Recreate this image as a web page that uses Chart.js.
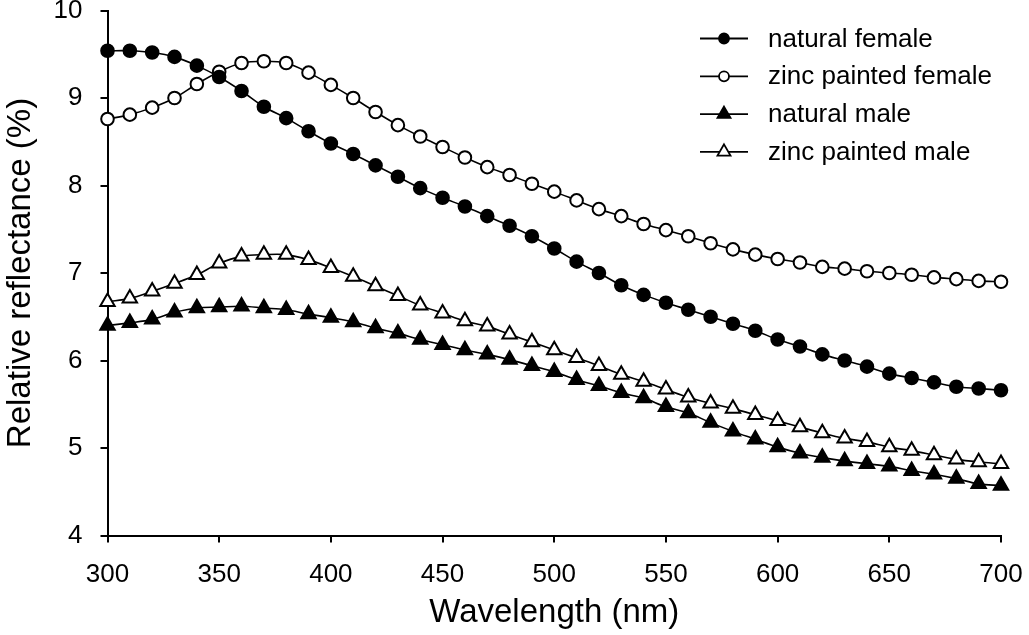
<!DOCTYPE html>
<html>
<head>
<meta charset="utf-8">
<script src="https://cdn.jsdelivr.net/npm/chart.js@4/dist/chart.umd.min.js"></script>
<style>
  html, body { margin: 0; padding: 0; background: #fff; }
  #wrap { width: 1029px; height: 635px; position: relative; }
</style>
</head>
<body>
<div id="wrap"><canvas id="c" width="1029" height="635"></canvas></div>
<script>
const wavelengths = [300,310,320,330,340,350,360,370,380,390,400,410,420,430,440,450,460,470,480,490,500,510,520,530,540,550,560,570,580,590,600,610,620,630,640,650,660,670,680,690,700];
const naturalFemale = [9.54,9.54,9.52,9.47,9.37,9.24,9.08,8.90,8.77,8.62,8.48,8.36,8.23,8.10,7.97,7.86,7.76,7.65,7.54,7.42,7.28,7.13,7.00,6.86,6.75,6.66,6.58,6.50,6.42,6.34,6.24,6.16,6.07,6.00,5.93,5.85,5.80,5.75,5.70,5.68,5.66];
const zincFemale = [8.76,8.81,8.89,9.00,9.16,9.30,9.40,9.42,9.40,9.29,9.15,9.00,8.84,8.69,8.56,8.44,8.32,8.21,8.12,8.02,7.93,7.83,7.73,7.65,7.56,7.49,7.42,7.34,7.27,7.21,7.16,7.12,7.07,7.05,7.02,7.00,6.98,6.95,6.93,6.91,6.90];
const naturalMale = [6.40,6.43,6.47,6.55,6.60,6.61,6.62,6.60,6.58,6.53,6.49,6.44,6.37,6.31,6.24,6.18,6.12,6.07,6.01,5.94,5.87,5.78,5.71,5.63,5.57,5.47,5.40,5.29,5.19,5.10,5.01,4.94,4.89,4.85,4.82,4.79,4.74,4.70,4.65,4.59,4.57];
const zincMale = [6.67,6.71,6.79,6.88,6.98,7.11,7.19,7.21,7.21,7.15,7.06,6.96,6.85,6.74,6.63,6.54,6.45,6.39,6.30,6.21,6.12,6.03,5.94,5.84,5.76,5.67,5.58,5.51,5.45,5.38,5.31,5.24,5.17,5.11,5.07,5.01,4.97,4.92,4.87,4.84,4.82];
const seriesLabels = ['natural female','zinc painted female','natural male','zinc painted male'];
const xTitle = 'Wavelength (nm)';
const yTitle = 'Relative reflectance (%)';

const FONT = '"Liberation Sans", Arial, sans-serif';
function pts(vals){ return wavelengths.map((w,i)=>({x:w, y:vals[i]})); }
function ds(label, vals, style, filled, r){
  return {
    label, data: pts(vals),
    borderColor:'#000', borderWidth:1.6, tension:0.35,
    pointStyle:style, pointRadius:r, pointHoverRadius:r,
    pointBackgroundColor: filled ? '#000' : '#fff',
    pointBorderColor:'#000', pointBorderWidth:2,
    clip:false, fill:false
  };
}

const legendPlugin = {
  id:'customLegend',
  afterDraw(chart){
    const ctx = chart.ctx;
    ctx.save();
    chart.data.datasets.forEach((d,i)=>{
      const y = 38.5 + i*37.8;
      ctx.strokeStyle = '#000'; ctx.lineWidth = 1.8;
      ctx.beginPath(); ctx.moveTo(700,y); ctx.lineTo(748,y); ctx.stroke();
      ctx.fillStyle = d.pointBackgroundColor; ctx.lineWidth = 1.8;
      ctx.beginPath();
      if (d.pointStyle === 'circle') {
        ctx.arc(724,y,5,0,Math.PI*2);
      } else {
        const r = 7.5;
        ctx.moveTo(724, y - r);
        ctx.lineTo(724 + r*Math.sin(2*Math.PI/3), y - r*Math.cos(2*Math.PI/3));
        ctx.lineTo(724 + r*Math.sin(4*Math.PI/3), y - r*Math.cos(4*Math.PI/3));
        ctx.closePath();
      }
      ctx.fill(); ctx.stroke();
      ctx.fillStyle = '#000';
      ctx.font = '26px ' + FONT;
      ctx.textBaseline = 'middle'; ctx.textAlign = 'left';
      ctx.fillText(d.label, 768, y + 1);
    });
    ctx.restore();
  }
};

new Chart(document.getElementById('c'), {
  type:'line',
  data:{ datasets:[
    ds(seriesLabels[0], naturalFemale, 'circle', true, 6.3),
    ds(seriesLabels[1], zincFemale, 'circle', false, 6.3),
    ds(seriesLabels[2], naturalMale, 'triangle', true, 8.3),
    ds(seriesLabels[3], zincMale, 'triangle', false, 8.3)
  ]},
  options:{
    responsive:false, animation:false,
    layout:{ padding:{ top:10.5, right:28, left:0, bottom:0 } },
    plugins:{ legend:{display:false}, tooltip:{enabled:false} },
    scales:{
      x:{
        type:'linear', min:300, max:700,
        ticks:{ stepSize:50, color:'#000', font:{family:FONT, size:26}, padding:17, maxRotation:0 },
        grid:{ drawOnChartArea:false, drawTicks:true, tickLength:7, color:'#000', lineWidth:2 },
        border:{ display:true, color:'#000', width:2 },
        title:{ display:true, text:xTitle, color:'#000', font:{family:FONT, size:33}, padding:{top:0,bottom:2} },
        afterFit(s){ s.height = 99.5; s.paddingRight = 0; s.paddingLeft = 0; }
      },
      y:{
        type:'linear', min:4, max:10,
        ticks:{ stepSize:1, color:'#000', font:{family:FONT, size:26}, padding:18 },
        grid:{ drawOnChartArea:false, drawTicks:true, tickLength:7, color:'#000', lineWidth:2 },
        border:{ display:true, color:'#000', width:2 },
        title:{ display:true, text:yTitle, color:'#000', font:{family:FONT, size:33}, padding:{top:1,bottom:0} },
        afterFit(s){ s.width = 107.5; s.paddingTop = 0; s.paddingBottom = 0; }
      }
    }
  },
  plugins:[legendPlugin]
});
</script>
</body>
</html>
